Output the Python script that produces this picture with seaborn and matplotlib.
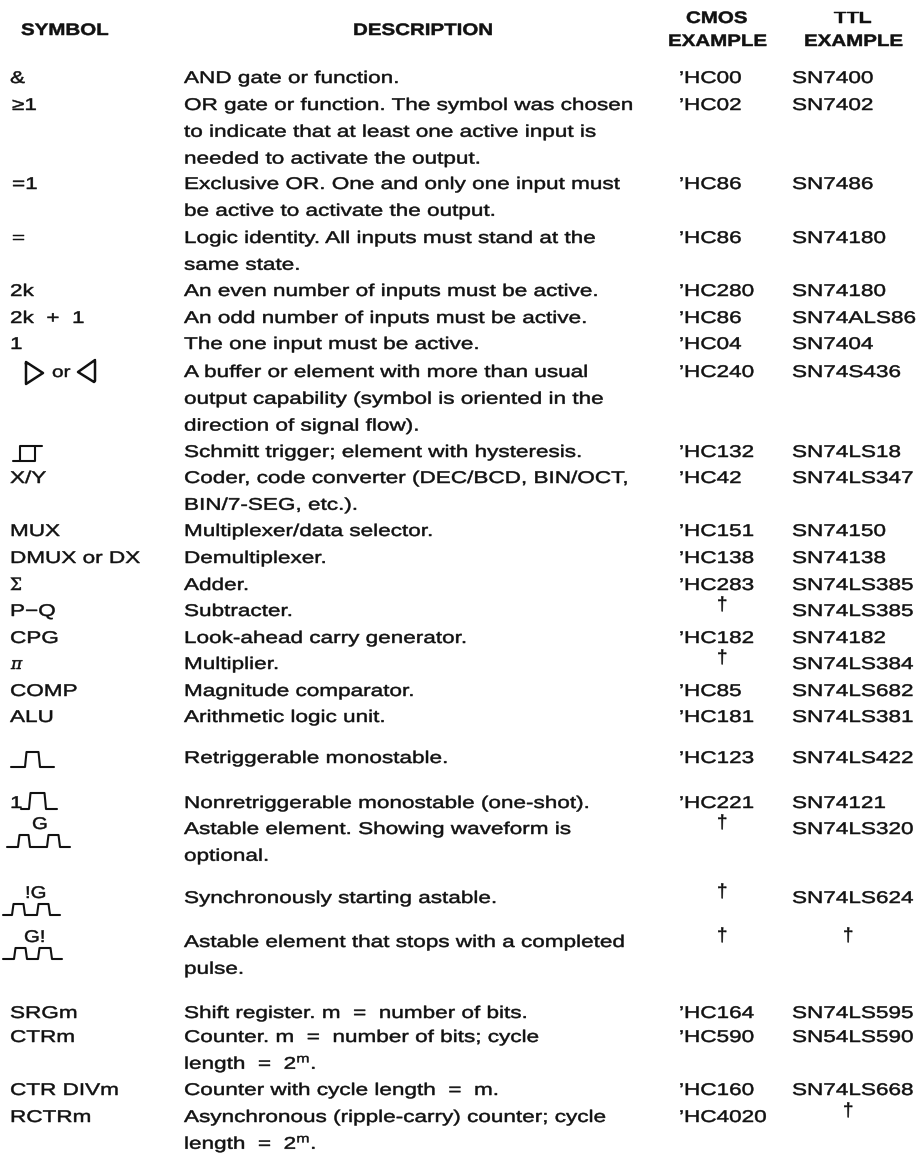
import matplotlib
matplotlib.use("Agg")
import matplotlib.patheffects as pe
import matplotlib.pyplot as plt
from matplotlib.transforms import Affine2D
import seaborn as sns

sns.set_theme(style="white")
plt.rcParams["font.family"] = ["Liberation Sans", "DejaVu Sans"]
plt.rcParams["mathtext.fontset"] = "custom"
plt.rcParams["mathtext.rm"] = "Liberation Sans"

# ==========================================
# Table contents
# ==========================================
headers = ["SYMBOL", "DESCRIPTION", "CMOS", "EXAMPLE", "TTL", "EXAMPLE"]

symbols = [
    "&", "\u22651", "=1", "=", "2k", "2k  +  1", "1", "", "", "X/Y", "MUX",
    "DMUX or DX", "\u03a3", "P\u2212Q", "CPG", "\u03c0", "COMP", "ALU", "", "1",
    "", "", "", "SRGm", "CTRm", "CTR DIVm", "RCTRm",
]

descriptions = [
    ["AND gate or function."],
    ["OR gate or function. The symbol was chosen",
     "to indicate that at least one active input is",
     "needed to activate the output."],
    ["Exclusive OR. One and only one input must",
     "be active to activate the output."],
    ["Logic identity. All inputs must stand at the",
     "same state."],
    ["An even number of inputs must be active."],
    ["An odd number of inputs must be active."],
    ["The one input must be active."],
    ["A buffer or element with more than usual",
     "output capability (symbol is oriented in the",
     "direction of signal flow)."],
    ["Schmitt trigger; element with hysteresis."],
    ["Coder, code converter (DEC/BCD, BIN/OCT,",
     "BIN/7-SEG, etc.)."],
    ["Multiplexer/data selector."],
    ["Demultiplexer."],
    ["Adder."],
    ["Subtracter."],
    ["Look-ahead carry generator."],
    ["Multiplier."],
    ["Magnitude comparator."],
    ["Arithmetic logic unit."],
    ["Retriggerable monostable."],
    ["Nonretriggerable monostable (one-shot)."],
    ["Astable element. Showing waveform is",
     "optional."],
    ["Synchronously starting astable."],
    ["Astable element that stops with a completed",
     "pulse."],
    ["Shift register. m  =  number of bits."],
    ["Counter. m  =  number of bits; cycle",
     "length  =  2$^{\\mathrm{m}}$."],
    ["Counter with cycle length  =  m."],
    ["Asynchronous (ripple-carry) counter; cycle",
     "length  =  2$^{\\mathrm{m}}$."],
]

cmos = [
    "\u2019HC00", "\u2019HC02", "\u2019HC86", "\u2019HC86", "\u2019HC280", "\u2019HC86",
    "\u2019HC04", "\u2019HC240", "\u2019HC132", "\u2019HC42", "\u2019HC151", "\u2019HC138",
    "\u2019HC283", "\u2020", "\u2019HC182", "\u2020", "\u2019HC85", "\u2019HC181",
    "\u2019HC123", "\u2019HC221", "\u2020", "\u2020", "\u2020", "\u2019HC164",
    "\u2019HC590", "\u2019HC160", "\u2019HC4020",
]

ttl = [
    "SN7400", "SN7402", "SN7486", "SN74180", "SN74180", "SN74ALS86", "SN7404",
    "SN74S436", "SN74LS18", "SN74LS347", "SN74150", "SN74138", "SN74LS385",
    "SN74LS385", "SN74182", "SN74LS384", "SN74LS682", "SN74LS381", "SN74LS422",
    "SN74121", "SN74LS320", "SN74LS624", "\u2020", "SN74LS595", "SN54LS590",
    "SN74LS668", "\u2020",
]

# ==========================================
# Layout (pixels of the page)
# ==========================================
row_top = [77, 104, 183, 237, 290, 317, 343, 371, 451, 477, 530, 557, 584, 610,
           637, 663, 690, 716, 757, 802, 828, 897, 941, 1012, 1036, 1089, 1116]
line_height = 26.8
body_size = 12.2
ink = "#111111"

fig = plt.figure(figsize=(9.22, 11.53), dpi=100)
ax = fig.add_axes([0, 0, 1, 1])
ax.set_xlim(0, 922)
ax.set_ylim(1153, 0)
ax.axis("off")


class Widen(pe.AbstractPathEffect):
    # the typeface of the page is much wider than any installed one
    def __init__(self, factor):
        super().__init__()
        self.factor = factor

    def draw_path(self, renderer, gc, tpath, affine, rgbFace=None):
        gc.set_linewidth(0.35)
        gc.set_foreground(ink)
        renderer.draw_path(gc, tpath, Affine2D().scale(self.factor, 1) + affine, rgbFace)


def put(x, y, s, widen=1.33, **kw):
    kw.setdefault("fontsize", body_size)
    ax.text(x, y + 6, s, color=ink, va="baseline", ha="left",
            path_effects=[Widen(widen)], **kw)


def stroke(xs, ys, lw=1.5):
    sns.lineplot(x=xs, y=ys, sort=False, estimator=None, ax=ax, color=ink,
                 linewidth=lw, legend=False)


def pulses(start, end, base, top, edges):
    # square wave outline, edges are the (rise, fall) x of each high part
    xs, ys = [start], [base]
    for up, down in edges:
        xs += [up, up + 1.5, down - 1.5, down]
        ys += [base, top, top, base]
    xs.append(end)
    ys.append(base)
    stroke(xs, ys)


# ==========================================
# Headers
# ==========================================
header_x = [21, 353, 686, 668, 834, 804]
header_y = [29, 29, 17, 40, 17, 40]
for x, y, head in zip(header_x, header_y, headers):
    put(x, y, head, widen=1.23, fontweight="bold", fontsize=12)

# ==========================================
# Rows
# ==========================================
for y, sym, lines, c, t in zip(row_top, symbols, descriptions, cmos, ttl):
    if sym == "\u03c0":
        put(11, y, sym, widen=1.0, style="italic", family="DejaVu Serif")
    elif sym == "\u03a3":
        put(10, y, sym, widen=1.0, family="DejaVu Serif")
    elif sym in ("\u22651", "=1", "="):
        put(12, y, sym)
    elif sym:
        put(10, y, sym)
    for i, line in enumerate(lines):
        put(184, y + i * line_height, line)
    if c == "\u2020":
        put(717, y - 6, c, widen=1.0, fontsize=13.5)
    else:
        put(679, y, c)
    if t == "\u2020":
        put(843, y - 6, t, widen=1.0, fontsize=13.5)
    else:
        put(792, y, t)

# ==========================================
# Drawn symbols
# ==========================================
# buffer triangles
stroke([26, 26, 43, 26, 26], [363, 384, 373, 362, 364], lw=1.8)
put(52, 371, "or", fontsize=11.5, widen=1.3)
stroke([95, 78, 94, 95, 95], [360, 372, 382, 381, 361], lw=1.8)

# schmitt trigger
stroke([13, 35, 35], [461, 461, 446])
stroke([20, 20, 42], [461, 446, 446])

# monostables and astables
pulses(11, 54, 767, 752, [(25, 40)])
pulses(21, 57, 809, 793, [(29, 46)])
put(32, 823, "G", widen=1.2)
pulses(7, 70, 847, 835, [(18, 30), (47, 60)])
put(25, 892, "!G", widen=1.2)
pulses(3, 60, 915, 904, [(12, 25), (37, 50)])
put(24, 936, "G!", widen=1.2)
pulses(3, 62, 959, 948, [(14, 27), (38, 52)])

fig.savefig("out.png", dpi=100)
